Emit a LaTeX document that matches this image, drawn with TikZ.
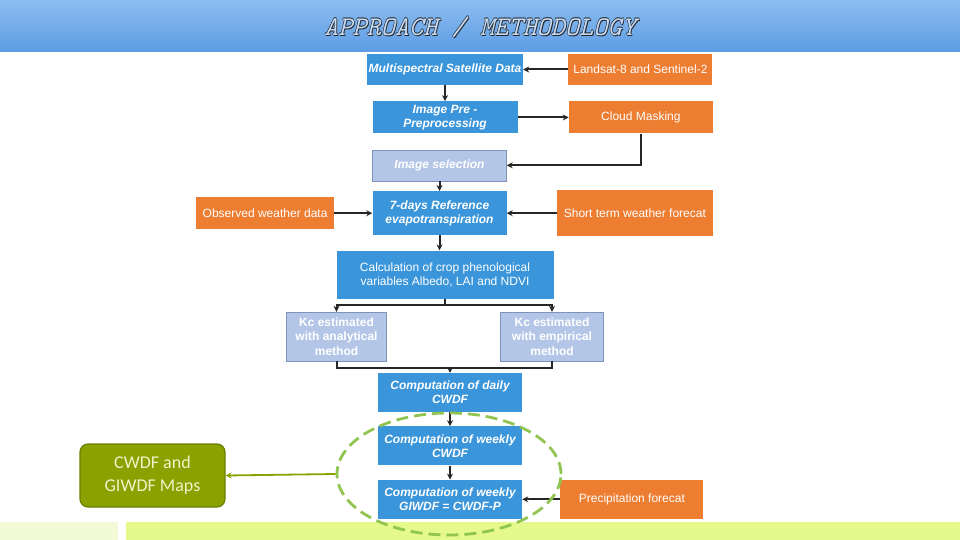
\documentclass[tikz,border=0pt]{standalone}
\usepackage{fontspec}
\setmainfont{Liberation Sans}
\newfontfamily\mapfont{Carlito}
\usepackage{tikz}
\usetikzlibrary{shapes.geometric,arrows.meta,positioning,calc}
\definecolor{cwink}{HTML}{262626}
\definecolor{cwblue}{HTML}{3A95DA}
\definecolor{cworange}{HTML}{ED7D31}
\definecolor{cwlav}{HTML}{B4C6E7}
\definecolor{cwlavline}{HTML}{7F93B8}
\definecolor{cwolive}{HTML}{8AA100}
\definecolor{cwoliveline}{HTML}{6C7E00}
\definecolor{cwmaptext}{HTML}{EEF4C8}
\definecolor{cwgreen}{HTML}{8FC550}
\definecolor{cwbartop}{HTML}{8CBDF0}
\definecolor{cwbarbot}{HTML}{5C9CE4}
\definecolor{cwtitlein}{HTML}{C4DBF7}
\definecolor{cwpale}{HTML}{F1FAD4}
\definecolor{cwlime}{HTML}{E6F98C}
\tikzset{
  box/.style    = {rectangle, align=center, inner sep=1pt, text=white,
                   font=\fontsize{12}{14}\selectfont},
  proc/.style   = {box, fill=cwblue, font=\fontsize{12}{14}\selectfont\bfseries\itshape},
  inbox/.style  = {box, fill=cworange},
  pick/.style   = {box, fill=cwlav, draw=cwlavline, thin,
                   font=\fontsize{12}{14}\selectfont\bfseries\itshape},
  kcbox/.style  = {box, fill=cwlav, draw=cwlavline, thin,
                   font=\fontsize{12}{14.5}\selectfont\bfseries},
  mapbox/.style = {rectangle, rounded corners=8pt, align=center, fill=cwolive,
                   draw=cwoliveline, line width=1.2pt, text=cwmaptext,
                   font=\mapfont\fontsize{18}{23}\selectfont},
  grp/.style    = {ellipse, draw=cwgreen, line width=2.8pt, inner sep=0pt,
                   dash pattern=on 12pt off 6pt},
  headtxt/.style = {font=\ttfamily\itshape\fontsize{27}{27}\selectfont},
  flow/.style   = {-{Stealth[length=6pt,width=6pt]}, line width=2pt, draw=cwink},
  joint/.style  = {line width=2pt, draw=cwink},
  mapflow/.style = {-{Stealth[length=6pt,width=6pt]}, line width=1.8pt, draw=cwolive},
}

\begin{document}
\begin{tikzpicture}[x=1pt,y=-1pt]
\useasboundingbox (0,0) rectangle (960,540);

% --- header and footer bands
\shade[top color=cwbartop, bottom color=cwbarbot] (0,0) rectangle (960,52);
\foreach \dx/\dy in {-0.45/0,0.45/0,0/-0.45,0/0.45,0.8/0.8}
  \node[headtxt, text=cwink] at (480+\dx,27+\dy) {APPROACH / METHODOLOGY};
\node[headtxt, text=cwtitlein] (title) at (480,27) {APPROACH / METHODOLOGY};
\fill[cwpale] (0,522) rectangle (118,540);
\fill[cwlime] (126,522) rectangle (960,540);

% --- image branch
\node[proc, minimum width=156pt, minimum height=31pt] (msd) at (445,69.5)
  {Multispectral Satellite Data};
\node[inbox, minimum width=144pt, minimum height=31pt, right=45pt of msd] (landsat)
  {Landsat-8 and Sentinel-2};
\node[proc, minimum width=145pt, minimum height=32pt, below=16pt of msd] (pre)
  {Image Pre -\\Preprocessing};
\node[inbox, minimum width=144pt, minimum height=32pt, right=51pt of pre] (cloud)
  {Cloud Masking};
\node[pick, minimum width=134pt, minimum height=31pt, below=16pt of pre, xshift=-5.5pt] (sel)
  {Image selection};

% --- reference evapotranspiration
\node[proc, minimum width=134pt, minimum height=44pt, below=10pt of sel] (ref)
  {7-days Reference\\evapotranspiration};
\node[inbox, minimum width=138pt, minimum height=32pt, left=38pt of ref] (obs)
  {Observed weather data};
\node[inbox, minimum width=156pt, minimum height=46pt, right=50pt of ref] (stf)
  {Short term weather forecat};
\node[box, fill=cwblue, minimum width=217pt, minimum height=48pt, below=15pt of ref, xshift=5.5pt] (calc)
  {Calculation of crop phenological\\variables Albedo, LAI and NDVI};

% --- crop coefficient
\node[kcbox, minimum width=100pt, minimum height=49pt, below=13pt of calc, xshift=-108.5pt] (kca)
  {Kc estimated\\with analytical\\method};
\node[kcbox, minimum width=103pt, minimum height=49pt, below=13pt of calc, xshift=107pt] (kce)
  {Kc estimated\\with empirical\\method};

% --- water deficit
\node[proc, minimum width=144pt, minimum height=39pt] (daily) at (450,392.5)
  {Computation of daily\\CWDF};
\node[proc, minimum width=144pt, minimum height=39pt, below=14pt of daily] (weekly)
  {Computation of weekly\\CWDF};
\node[proc, minimum width=144pt, minimum height=39pt, below=14pt of weekly] (giwdf)
  {Computation of weekly\\GIWDF = CWDF-P};
\node[inbox, minimum width=143pt, minimum height=39pt, right=38pt of giwdf] (precip)
  {Precipitation forecat};
\node[mapbox, minimum width=145pt, minimum height=63pt] (maps) at (152.5,475.5)
  {CWDF and\\GIWDF Maps};

% --- arrows
\draw[flow] (landsat) -- (msd);
\draw[flow] (msd) -- (pre);
\draw[flow] (pre) -- (cloud);
\draw[flow] (cloud.south) |- (sel.east);
\draw[flow] (sel) -- (ref);
\draw[flow] (obs) -- (ref);
\draw[flow] (stf) -- (ref);
\draw[flow] (ref.south) -- (ref.south |- calc.north);
\draw[flow] (calc.south) -- ++(0,6) -| (kca.north);
\draw[flow] (calc.south) -- ++(0,6) -| (kce.north);
\draw[joint] (kca.south) -- ++(0,7) coordinate (join) -| (kce.south);
\draw[flow] (join -| daily.north) -- (daily.north);
\draw[flow] (daily) -- (weekly);
\draw[flow] (weekly) -- (giwdf);
\draw[flow] (precip) -- (giwdf);

% --- weekly group
\node[grp, minimum width=224pt, minimum height=122pt] (wgrp) at (449,474) {};
\draw[mapflow] (wgrp.west) -- (maps.east);

\end{tikzpicture}
\end{document}
